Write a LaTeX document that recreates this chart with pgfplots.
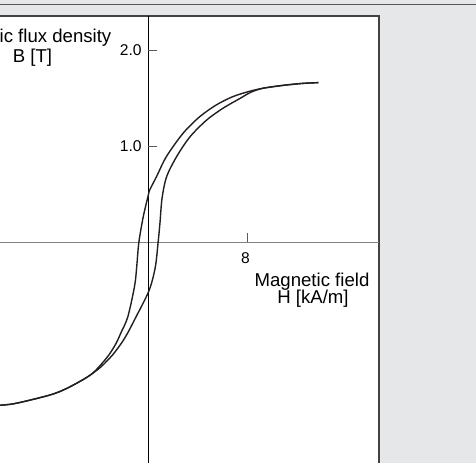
\documentclass[border=0pt]{standalone}
\usepackage{pgfplots}
\pgfplotsset{compat=1.18}
\usepackage{fontspec}
\setmainfont{Liberation Sans}
\definecolor{bggray}{HTML}{E6E7E8}
\definecolor{curve}{HTML}{231F20}
\definecolor{axgray}{HTML}{808285}
\definecolor{topline}{HTML}{58595B}
\begin{document}
\begin{tikzpicture}
\useasboundingbox (0,0) rectangle (238pt,231.5pt);
\clip (0,0) rectangle (238pt,231.5pt);
\fill[bggray] (0,0) rectangle (238pt,231.5pt);
\draw[topline, line width=0.75pt] (0,229.25pt) -- (238pt,229.25pt);
\fill[white] (0,0) rectangle (189.5pt,223.5pt);
\draw[curve!85, line width=0.55pt] (0,223.5pt) -- (189.5pt,223.5pt) -- (189.5pt,0);
\begin{axis}[at={(0,0)}, anchor=south west, scale only axis,
  width=189.5pt, height=223.5pt,
  xmin=-12.03, xmax=18.68, ymin=-2.297, ymax=2.359,
  axis lines=middle, axis line style={-},
  x axis line style={axgray, line width=0.55pt},
  y axis line style={black, line width=0.55pt},
  xtick={8}, xticklabels={8}, ytick={1,2}, yticklabels={1.0,2.0},
  major tick length=0pt, tick style={draw=none},
  ticklabel style={font=\fontsize{7.8}{9}\selectfont, inner sep=0pt},
  xticklabel style={anchor=north, yshift=-4.75pt, xshift=-0.85pt},
  yticklabel style={anchor=east, xshift=-3.25pt},
  clip=true]
\draw[topline, line width=0.5pt] (axis cs:0,1) -- ([xshift=4.5pt]axis cs:0,1);
\draw[topline, line width=0.5pt] (axis cs:0,2) -- ([xshift=4.5pt]axis cs:0,2);
\draw[topline, line width=0.5pt] (axis cs:8,0) -- ([yshift=4.5pt]axis cs:8,0);
% descending branch
\addplot[curve, line width=0.7pt, smooth] coordinates {
(13.76,1.665) (12.5,1.657) (11.0,1.638) (9.3,1.607) (8.2,1.575) (6.85,1.52)
(5.5,1.433) (4.15,1.31) (2.8,1.137) (1.45,0.894) (0.65,0.685) (0.1,0.547)
(0.0,0.50) (-0.42,0.27) (-0.78,0.0) (-0.95,-0.25) (-1.12,-0.45) (-1.67,-0.773)
(-2.25,-0.946) (-2.62,-1.05) (-3.2,-1.17) (-3.97,-1.29) (-4.6,-1.37) (-5.32,-1.43)
(-6.7,-1.525) (-8.02,-1.59) (-10.72,-1.675) (-12.07,-1.696) (-13.76,-1.71)
};
% ascending branch
\addplot[curve, line width=0.7pt, smooth] coordinates {
(-13.76,-1.71) (-12.07,-1.696) (-10.72,-1.675) (-8.02,-1.59) (-6.7,-1.525)
(-5.32,-1.43) (-4.6,-1.37) (-3.8,-1.29) (-2.9,-1.17) (-2.2,-1.05) (-1.7,-0.946)
(-1.0,-0.773) (0.05,-0.5) (0.55,-0.26) (0.78,0.0) (0.93,0.2) (1.1,0.46)
(1.47,0.685) (2.28,0.894) (3.36,1.10) (4.72,1.276) (6.06,1.40) (7.41,1.50)
(8.3,1.565) (9.3,1.607) (11.0,1.638) (12.5,1.657) (13.76,1.665)
};
\end{axis}
\node[anchor=base east, font=\fontsize{9.3}{11}\selectfont, inner sep=0pt] at (55.85pt,210.5pt) {Magnetic flux density};
\node[anchor=base, font=\fontsize{9.3}{11}\selectfont, inner sep=0pt] at (16.25pt,200.15pt) {B [T]};
\node[anchor=base, font=\fontsize{9.3}{11}\selectfont, inner sep=0pt] at (156pt,88.5pt) {Magnetic field};
\node[anchor=base, font=\fontsize{9.3}{11}\selectfont, inner sep=0pt] at (156.5pt,79.75pt) {H [kA/m]};
\end{tikzpicture}
\end{document}
